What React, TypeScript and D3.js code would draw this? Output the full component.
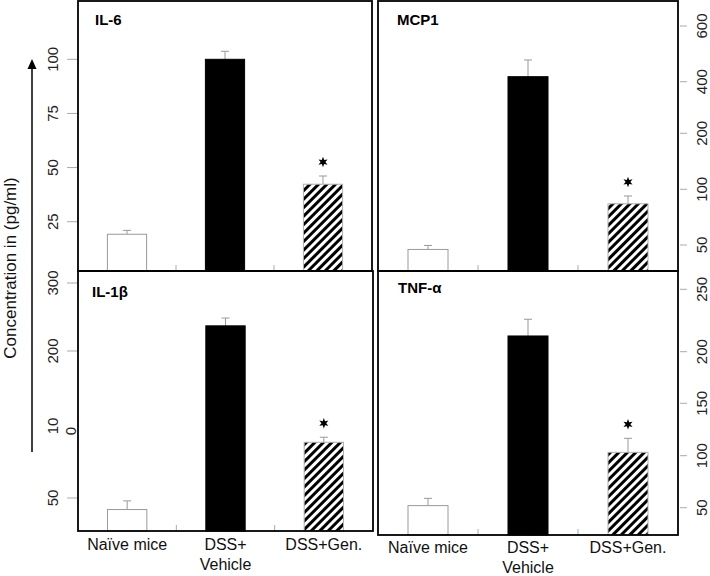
import React from "react";
import * as d3 from "d3";

// ---------- data ----------
const categories = ["Naïve mice", "DSS+|Vehicle", "DSS+Gen."];
const significant = [false, false, true];

const il6Means = [19.2, 100, 42.3];
const il6Upper = [21, 103.7, 46.1];
const mcp1Means = [46, 418, 87];
const mcp1Upper = [49.6, 478, 94];
const il1bMeans = [42, 237, 88.7];
const il1bUpper = [48, 248.5, 92.2];
const tnfMeans = [52, 212.6, 103.2];
const tnfUpper = [59, 226, 116.6];

const il6Ticks = [25, 50, 75, 100];
const mcp1Ticks = [50, 100, 200, 400, 600];
const il1bTicks = [50, 200, 300];
const tnfTicks = [50, 100, 150, 200, 250];

const yTitle = "Concentration in (pg/ml)";
const FONT = "'Liberation Sans', Arial, Helvetica, sans-serif";

// six-pointed star symbol
const star6 = {
  draw(ctx: any, size: number) {
    const R = Math.sqrt(size) / 2;
    const r = R * 0.45;
    for (let i = 0; i < 12; i++) {
      const a = -Math.PI / 2 + (i * Math.PI) / 6;
      const rad = i % 2 === 0 ? R : r;
      const px = Math.cos(a) * rad;
      const py = Math.sin(a) * rad;
      if (i === 0) ctx.moveTo(px, py);
      else ctx.lineTo(px, py);
    }
    ctx.closePath();
  },
};

type PanelProps = {
  id: string;
  title: string;
  x0: number;
  x1: number;
  y0: number;
  y1: number;
  means: number[];
  upper: number[];
  y: d3.ScaleLinear<number, number>;
  ticks: number[];
  side: "left" | "right";
  showX: boolean;
  titleDx: number;
  titleBase: number;
  xLabelDy?: number;
  extra?: React.ReactNode;
};

function Panel(p: PanelProps) {
  const x = d3
    .scaleBand<string>()
    .domain(categories)
    .range([p.x0, p.x1])
    .paddingInner(0.6)
    .paddingOuter(0.3);
  const step = x.step();
  const bw = x.bandwidth();
  const starPath = d3.symbol().type(star6 as any).size(110)() as string;
  const tickX1 = p.side === "left" ? p.x0 - 11 : p.x1 + 2;
  const tickX2 = p.side === "left" ? p.x0 - 1 : p.x1 + 9;
  const labelX = p.side === "left" ? 52 : 701;
  const fills = ["#fff", "#000", "url(#hatch)"];
  const strokes = ["#9a9a9a", "#000", "#b0b0b0"];
  const xDy = p.xLabelDy ?? 19;

  return (
    <g>
      {/* axis ticks */}
      {p.ticks.map((t) => (
        <g key={t}>
          <line x1={tickX1} x2={tickX2} y1={p.y(t)} y2={p.y(t)} stroke="#aaa" strokeWidth={1} />
          <text
            transform={`translate(${labelX},${p.y(t)}) rotate(-90)`}
            textAnchor="middle"
            dominantBaseline="central"
            fontSize={15}
            fontFamily={FONT}
            fill="#222"
          >
            {t}
          </text>
        </g>
      ))}
      {p.extra}
      {/* separators */}
      {[1, 2].map((k) => (
        <line
          key={k}
          x1={p.x0 + step * k}
          x2={p.x0 + step * k}
          y1={p.y1}
          y2={p.y1 - 6}
          stroke="#aaa"
          strokeWidth={1}
        />
      ))}
      {/* bars */}
      {categories.map((c, i) => {
        const bx = x(c)!;
        const top = p.y(p.means[i]);
        const errTop = p.y(p.upper[i]);
        const cx = bx + bw / 2;
        return (
          <g key={c}>
            <line x1={cx} x2={cx} y1={top} y2={errTop} stroke="#999" strokeWidth={1} />
            <line x1={cx - 4} x2={cx + 4} y1={errTop} y2={errTop} stroke="#999" strokeWidth={1} />
            <rect
              x={bx}
              y={top}
              width={bw}
              height={p.y1 - top}
              fill={fills[i]}
              stroke={strokes[i]}
              strokeWidth={1}
            />
            {significant[i] && (
              <path d={starPath} transform={`translate(${cx},${errTop - 14})`} fill="#000" />
            )}
          </g>
        );
      })}
      {/* frame */}
      <rect
        x={p.x0}
        y={p.y0}
        width={p.x1 - p.x0}
        height={p.y1 - p.y0}
        fill="none"
        stroke="#000"
        strokeWidth={1.8}
      />
      <text
        x={p.x0 + p.titleDx}
        y={p.titleBase}
        fontSize={15}
        fontWeight="bold"
        fontFamily={FONT}
        fill="#000"
      >
        {p.title}
      </text>
      {p.showX &&
        categories.map((c) => {
          const lines = c.split("|");
          const cx = x(c)! + bw / 2;
          return (
            <text
              key={c}
              x={cx}
              y={p.y1 + xDy}
              textAnchor="middle"
              fontSize={16}
              fontFamily={FONT}
              fill="#111"
            >
              {lines.map((l, j) => (
                <tspan key={j} x={cx} dy={j === 0 ? 0 : 20}>
                  {l}
                </tspan>
              ))}
            </text>
          );
        })}
    </g>
  );
}

export default function App() {
  const il6Y = d3.scaleLinear().domain([25, 100]).range([221.7, 59.3]);
  const mcp1Y = d3.scaleLinear().domain(mcp1Ticks).range([245, 189.3, 133.3, 81.7, 26]);
  const il1bY = d3.scaleLinear().domain([50, 100, 200, 300]).range([498, 426, 351, 283]);
  const tnfY = d3.scaleLinear().domain(tnfTicks).range([507.7, 455.7, 403.3, 351.7, 289.3]);

  const il1bExtra = (
    <g fontFamily={FONT} fontSize={15} fill="#222">
      <text transform={`translate(52,${il1bY(100)}) rotate(-90)`} textAnchor="middle" dominantBaseline="central">
        10
      </text>
      <text transform={`translate(70,${il1bY(100) + 5}) rotate(-90)`} textAnchor="middle" dominantBaseline="central">
        0
      </text>
    </g>
  );

  return (
    <svg
      width={710}
      height={576}
      style={{ position: "absolute", left: 0, top: 0, background: "#fff" }}
    >
      <defs>
        <pattern id="hatch" patternUnits="userSpaceOnUse" width={6} height={6} patternTransform="rotate(45)">
          <rect width={6} height={6} fill="#fff" />
          <rect x={0} y={0} width={3} height={6} fill="#000" />
        </pattern>
      </defs>
      <rect x={0} y={0} width={710} height={576} fill="#fff" />
      {/* y-axis title and arrow */}
      <text
        transform="translate(10,268) rotate(-90)"
        textAnchor="middle"
        dominantBaseline="central"
        fontSize={17}
        fontFamily={FONT}
        fill="#111"
      >
        {yTitle}
      </text>
      <line x1={32} x2={32} y1={452} y2={68} stroke="#000" strokeWidth={1.5} />
      <path d="M32,59 L27.5,69 L36.5,69 Z" fill="#000" />

      <Panel
        id="il6"
        title="IL-6"
        x0={78}
        x1={372}
        y0={1}
        y1={271}
        means={il6Means}
        upper={il6Upper}
        y={il6Y}
        ticks={il6Ticks}
        side="left"
        showX={false}
        titleDx={17}
        titleBase={25}
      />
      <Panel
        id="mcp1"
        title="MCP1"
        x0={378}
        x1={678}
        y0={1}
        y1={271}
        means={mcp1Means}
        upper={mcp1Upper}
        y={mcp1Y}
        ticks={mcp1Ticks}
        side="right"
        showX={false}
        titleDx={19}
        titleBase={25}
      />
      <Panel
        id="il1b"
        title="IL-1β"
        x0={78}
        x1={373}
        y0={271}
        y1={531}
        means={il1bMeans}
        upper={il1bUpper}
        y={il1bY}
        ticks={il1bTicks}
        side="left"
        showX={true}
        titleDx={14}
        titleBase={297}
        extra={il1bExtra}
      />
      <Panel
        id="tnf"
        title="TNF-α"
        x0={378}
        x1={678}
        y0={271}
        y1={535}
        means={tnfMeans}
        upper={tnfUpper}
        y={tnfY}
        ticks={tnfTicks}
        side="right"
        showX={true}
        titleDx={20}
        titleBase={293}
        xLabelDy={18}
      />
    </svg>
  );
}
